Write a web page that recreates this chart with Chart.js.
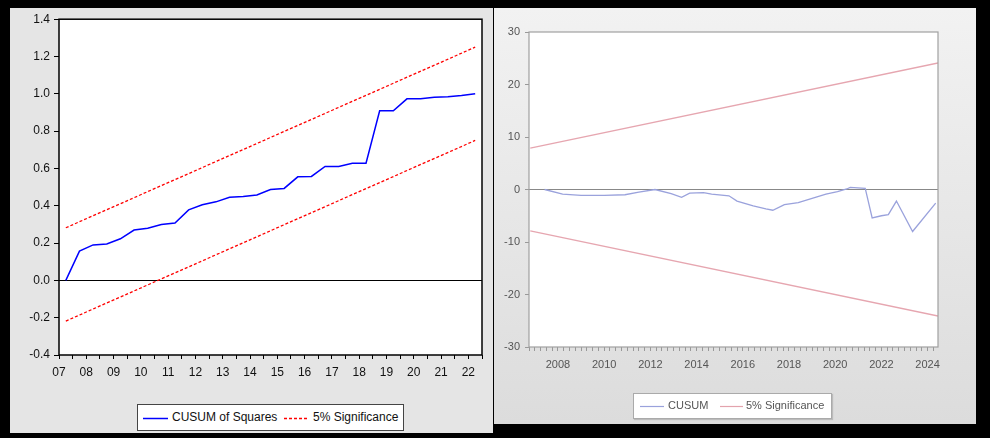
<!DOCTYPE html>
<html>
<head>
<meta charset="utf-8">
<script src="https://cdn.jsdelivr.net/npm/chart.js@4.4.1/dist/chart.umd.min.js"></script>
<style>
html,body{margin:0;padding:0;background:#000;width:990px;height:438px;overflow:hidden;font-family:"Liberation Sans",Arial,sans-serif;}
.panel{position:absolute;}
#p1{left:10px;top:8px;width:483px;height:425px;background:#e5e5e5;}
#p2{left:494px;top:8px;width:482px;height:416px;background:linear-gradient(#f2f2f2,#dcdcdc);}
canvas{position:absolute;left:0;top:0;}
.legend{position:absolute;background:#fff;box-sizing:border-box;}
#lg1{left:127px;top:396px;width:267px;height:27px;border:1.5px solid #444;font-size:12px;color:#111;}
#lg2{left:139px;top:385px;width:199px;height:26px;border:1px solid #aaa;font-size:11px;color:#555;box-shadow:1px 1px 1px #bbb;}
.legend svg{position:absolute;}
.legend span{position:absolute;white-space:nowrap;}
</style>
</head>
<body>
<div class="panel" id="p1">
  <canvas id="c1" width="483" height="425"></canvas>
  <div class="legend" id="lg1">
    <svg style="left:5px;top:12px" width="25" height="3"><line x1="0" y1="1.5" x2="25" y2="1.5" stroke="#0000ff" stroke-width="1.5"/></svg>
    <span style="left:34px;top:5px">CUSUM of Squares</span>
    <svg style="left:146px;top:12px" width="25" height="3"><line x1="0" y1="1.5" x2="25" y2="1.5" stroke="#ff0000" stroke-width="1.3" stroke-dasharray="3,2"/></svg>
    <span style="left:175px;top:5px">5% Significance</span>
  </div>
</div>
<div class="panel" id="p2">
  <canvas id="c2" width="482" height="416"></canvas>
  <div class="legend" id="lg2">
    <svg style="left:6px;top:11px" width="24" height="3"><line x1="0" y1="1.5" x2="24" y2="1.5" stroke="#9aa2dc" stroke-width="1.2"/></svg>
    <span style="left:34px;top:5px">CUSUM</span>
    <svg style="left:86px;top:11px" width="23" height="3"><line x1="0" y1="1.5" x2="23" y2="1.5" stroke="#e3a3ad" stroke-width="1.2"/></svg>
    <span style="left:112px;top:5px">5% Significance</span>
  </div>
</div>
<script>
// ---------- Left chart: CUSUM of Squares (semiannual observations) ----------
const sqTickLabels = ['07','08','09','10','11','12','13','14','15','16','17','18','19','20','21','22'];
const sqValues = [0.000,0.157,0.190,0.195,0.223,0.270,0.280,0.300,0.308,0.378,0.405,
                  0.421,0.445,0.449,0.458,0.487,0.493,0.555,0.557,0.611,0.611,
                  0.628,0.628,0.909,0.909,0.973,0.973,0.981,0.984,0.991,1.000];
const sqSigUpper = [0.282, 1.250];   // first and last observation
const sqSigLower = [-0.218, 0.750];

// ---------- Right chart: CUSUM ----------
const cuTickLabels = ['2008','2010','2012','2014','2016','2018','2020','2022','2024'];
const cuYears  = [2007.42,2008.2,2009.0,2010.0,2010.9,2011.5,2012.2,2012.9,2013.35,2013.7,
                  2014.3,2014.65,2015.4,2015.75,2016.45,2017.0,2017.3,2017.8,2018.4,2019.0,
                  2019.6,2020.1,2020.5,2020.65,2021.3,2021.6,2022.0,2022.3,2022.65,2023.35,2024.35];
const cuValues = [0.0,-0.9,-1.1,-1.1,-1.0,-0.5,0.0,-0.8,-1.5,-0.7,
                  -0.6,-0.9,-1.2,-2.2,-3.1,-3.7,-3.95,-2.9,-2.5,-1.7,
                  -0.9,-0.4,0.1,0.4,0.2,-5.4,-5.0,-4.8,-2.2,-8.0,-2.6];
const cuSigYears = [2006.8, 2024.45];
const cuSigUpper = [7.9, 24.1];
const cuSigLower = [-7.9, -24.1];

const framePlugin = {
  id: 'frame',
  beforeDraw(chart) {
    const {ctx, chartArea: a} = chart;
    ctx.save();
    ctx.fillStyle = '#ffffff';
    ctx.fillRect(a.left, a.top, a.right - a.left, a.bottom - a.top);
    ctx.restore();
  },
  afterDatasetsDraw(chart, args, opts) {
    const {ctx, chartArea: a} = chart;
    ctx.save();
    ctx.strokeStyle = opts.color;
    ctx.lineWidth = opts.width;
    ctx.strokeRect(a.left, a.top, a.right - a.left, a.bottom - a.top);
    ctx.restore();
  }
};

Chart.defaults.font.family = '"Liberation Sans", Arial, sans-serif';
const isZero = v => Math.abs(v) < 1e-9;

// left chart
const sqX = sqValues.map((v, i) => i + 0.5);
const sqLast = sqValues.length - 1;
new Chart(document.getElementById('c1'), {
  type: 'scatter',
  data: {
    datasets: [
      {label: 'CUSUM of Squares', data: sqValues.map((v, i) => ({x: sqX[i], y: v})),
       showLine: true, borderColor: '#0000ff', borderWidth: 1.5, pointRadius: 0, tension: 0},
      {label: '5% Significance', data: [{x: sqX[0], y: sqSigUpper[0]}, {x: sqX[sqLast], y: sqSigUpper[1]}],
       showLine: true, borderColor: '#ff0000', borderWidth: 1.3, borderDash: [3, 2], pointRadius: 0},
      {label: '5% Significance (lower)', data: [{x: sqX[0], y: sqSigLower[0]}, {x: sqX[sqLast], y: sqSigLower[1]}],
       showLine: true, borderColor: '#ff0000', borderWidth: 1.3, borderDash: [3, 2], pointRadius: 0}
    ]
  },
  options: {
    responsive: false, animation: false, events: [], devicePixelRatio: 1,
    layout: {padding: {left: 0, right: 11, top: 11, bottom: 48}},
    plugins: {legend: {display: false}, tooltip: {enabled: false}, frame: {color: '#000', width: 1.5}},
    scales: {
      x: {
        type: 'linear', min: 0, max: sqValues.length,
        afterFit(s) { s.height = 30; },
        border: {display: false},
        grid: {drawOnChartArea: false, tickLength: 4, tickColor: '#000', lineWidth: 1},
        ticks: {stepSize: 1, autoSkip: false, maxRotation: 0, minRotation: 0, padding: 6,
                color: '#111', font: {size: 12}, includeBounds: false,
                callback: v => (isZero(v % 2) ? (sqTickLabels[Math.round(v / 2)] || '') : '')}
      },
      y: {
        min: -0.4, max: 1.4,
        afterFit(s) { s.width = 49; },
        border: {display: false},
        grid: {color: c => (c.tick && isZero(c.tick.value)) ? '#000' : 'rgba(0,0,0,0)',
               tickColor: '#000', tickLength: 5, lineWidth: 1},
        ticks: {stepSize: 0.2, padding: 4, color: '#111', font: {size: 12},
                callback: v => isZero(v) ? '0.0' : Number(v).toFixed(1)}
      }
    }
  },
  plugins: [framePlugin]
});

// right chart
new Chart(document.getElementById('c2'), {
  type: 'scatter',
  data: {
    datasets: [
      {label: 'CUSUM', data: cuYears.map((x, i) => ({x: x, y: cuValues[i]})),
       showLine: true, borderColor: '#9aa2dc', borderWidth: 1.3, pointRadius: 0, tension: 0},
      {label: '5% Significance', data: cuSigYears.map((x, i) => ({x: x, y: cuSigUpper[i]})),
       showLine: true, borderColor: '#e6a6b0', borderWidth: 1.3, pointRadius: 0},
      {label: '5% Significance (lower)', data: cuSigYears.map((x, i) => ({x: x, y: cuSigLower[i]})),
       showLine: true, borderColor: '#e6a6b0', borderWidth: 1.3, pointRadius: 0}
    ]
  },
  options: {
    responsive: false, animation: false, events: [], devicePixelRatio: 1,
    layout: {padding: {left: 0, right: 38, top: 24, bottom: 47}},
    plugins: {legend: {display: false}, tooltip: {enabled: false}, frame: {color: '#a0a0a0', width: 1.2}},
    scales: {
      x: {
        type: 'linear', min: 2006.745, max: 2024.45,
        afterFit(s) { s.height = 30; },
        border: {display: false},
        grid: {drawOnChartArea: false, tickLength: 4, tickColor: '#999', lineWidth: 1},
        ticks: {stepSize: 0.25, autoSkip: false, maxRotation: 0, minRotation: 0, padding: 7,
                color: '#555', font: {size: 11}, includeBounds: false,
                callback: v => {
                  const r = Math.round(v);
                  return (isZero(v - r) && cuTickLabels.includes(String(r))) ? String(r) : '';
                }}
      },
      y: {
        min: -30, max: 30,
        afterFit(s) { s.width = 35; },
        border: {display: false},
        grid: {color: c => (c.tick && isZero(c.tick.value)) ? '#888' : 'rgba(0,0,0,0)',
               tickColor: '#999', tickLength: 4, lineWidth: 1},
        ticks: {stepSize: 10, padding: 5, color: '#555', font: {size: 11}}
      }
    }
  },
  plugins: [framePlugin]
});
</script>
</body>
</html>
